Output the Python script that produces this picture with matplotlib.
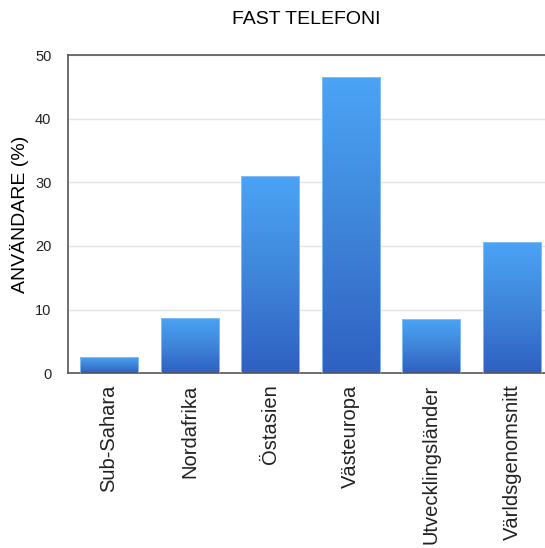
import matplotlib
matplotlib.use("Agg")
import matplotlib.pyplot as plt
import numpy as np
from matplotlib.colors import LinearSegmentedColormap

plt.rcParams['font.family'] = ['Liberation Sans', 'DejaVu Sans']

categories = ["Sub-Sahara", "Nordafrika", "Östasien", "Västeuropa", "Utvecklingsländer", "Världsgenomsnitt"]
values = [2.6, 8.7, 31.0, 46.6, 8.6, 20.7]
yticks = [0, 10, 20, 30, 40, 50]

fig = plt.figure(figsize=(5.45, 5.48), dpi=100)
ax = fig.add_axes([0.1248, 0.3188, 0.8752, 0.5808])

cmap = LinearSegmentedColormap.from_list("g", ["#2F60C2", "#3F86DA", "#4BA4F6"])
grad = np.linspace(0, 1, 256).reshape(-1, 1)

x = np.arange(len(categories))
bars = ax.bar(x, values, width=0.72, color="none", edgecolor="#8EC4F5", linewidth=0.6, zorder=3)
for b in bars:
    x0, y0 = b.get_x(), b.get_y()
    w, h = b.get_width(), b.get_height()
    im = ax.imshow(grad, extent=[x0, x0 + w, y0, y0 + h], origin="lower", cmap=cmap,
                   aspect="auto", zorder=2, interpolation="bilinear")
    im.set_clip_path(b)

ax.set_xlim(-0.51, 5.41)
ax.set_ylim(0, 50)
ax.set_yticks(yticks)
ax.yaxis.grid(True, color="#E3E3E3", linewidth=1.0, zorder=0)
ax.set_axisbelow(True)
ax.set_xticks(x)
ax.set_xticklabels(categories, rotation=90, fontsize=14.5)
ax.tick_params(axis="both", length=0, colors="#222222")
ax.tick_params(axis="y", labelsize=10.5, pad=12)
ax.tick_params(axis="x", pad=8)

for s in ["left", "bottom", "top"]:
    ax.spines[s].set_color("#555555")
    ax.spines[s].set_linewidth(1.2)
ax.spines["right"].set_visible(False)

ax.set_ylabel("ANVÄNDARE (%)", fontsize=14, labelpad=4)
fig.text(0.5624, 0.965, "FAST TELEFONI", ha="center", va="center", fontsize=14)

fig.savefig("out.png", dpi=100)
